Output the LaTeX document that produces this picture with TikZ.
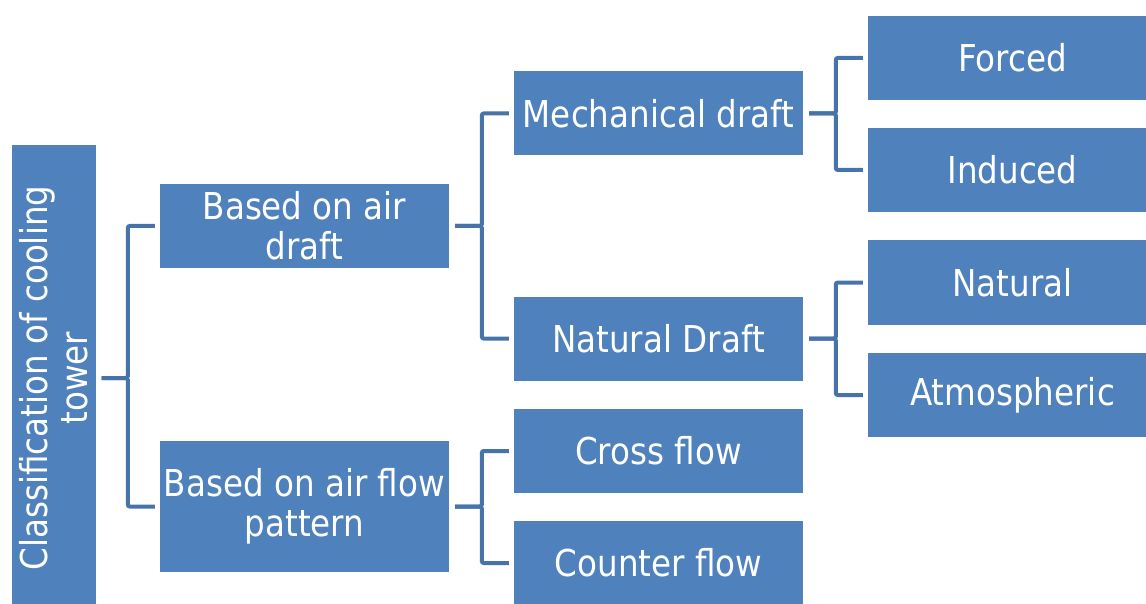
\documentclass[tikz,border=0pt]{standalone}
\usepackage{fontspec}
\setmainfont{DejaVu Sans}[FakeStretch=0.88]
\usepackage{xcolor}
\definecolor{boxblue}{HTML}{4F81BD}
\definecolor{lineblue}{HTML}{4573AA}

\begin{document}
\begin{tikzpicture}[x=1pt, y=-1pt,
    box/.style={rectangle, fill=boxblue, text=white, align=center, inner sep=0pt,
        minimum width=289pt, minimum height=84pt, font=\fontsize{37}{40}\selectfont},
    link/.style={draw=lineblue, line width=4pt, rounded corners=2pt}]
    \useasboundingbox (0,0) rectangle (1146,604);

    % Root
    \node[box, rotate=90, minimum width=466pt, minimum height=84pt] (root) at (53.5,378) {Classification of cooling\\tower};

    % First level
    \node[box] (airdraft) at (304.5,226) {Based on air\\draft};
    \node[box, minimum height=131pt] (airflow) at (304.5,506.5) {Based on air flow\\pattern};

    % Second level
    \node[box] (mechanical) at (658.5,113.5) {Mechanical draft};
    \node[box] (naturaldraft) at (658.5,338.5) {Natural Draft};
    \node[box] (crossflow) at (658.5,451) {Cross flow};
    \node[box] (counterflow) at (658.5,563) {Counter flow};

    % Third level
    \node[box] (forced) at (1012.5,58) {Forced};
    \node[box] (induced) at (1012.5,170) {Induced};
    \node[box] (natural) at (1012.5,282.5) {Natural};
    \node[box] (atmospheric) at (1012.5,395) {Atmospheric};

    % Connections
    \draw[link] ([xshift=6pt]root.south) -| ([xshift=-32pt]airdraft.west) -- ([xshift=-5pt]airdraft.west);
    \draw[link] ([xshift=6pt]root.south) -| ([xshift=-32pt]airflow.west) -- ([xshift=-5pt]airflow.west);
    \draw[link] ([xshift=6pt]airdraft.east) -| ([xshift=-32pt]mechanical.west) -- ([xshift=-5pt]mechanical.west);
    \draw[link] ([xshift=6pt]airdraft.east) -| ([xshift=-32pt]naturaldraft.west) -- ([xshift=-5pt]naturaldraft.west);
    \draw[link] ([xshift=6pt]airflow.east) -| ([xshift=-32pt]crossflow.west) -- ([xshift=-5pt]crossflow.west);
    \draw[link] ([xshift=6pt]airflow.east) -| ([xshift=-32pt]counterflow.west) -- ([xshift=-5pt]counterflow.west);
    \draw[link] ([xshift=6pt]mechanical.east) -| ([xshift=-32pt]forced.west) -- ([xshift=-5pt]forced.west);
    \draw[link] ([xshift=6pt]mechanical.east) -| ([xshift=-32pt]induced.west) -- ([xshift=-5pt]induced.west);
    \draw[link] ([xshift=6pt]naturaldraft.east) -| ([xshift=-32pt]natural.west) -- ([xshift=-5pt]natural.west);
    \draw[link] ([xshift=6pt]naturaldraft.east) -| ([xshift=-32pt]atmospheric.west) -- ([xshift=-5pt]atmospheric.west);
\end{tikzpicture}
\end{document}
